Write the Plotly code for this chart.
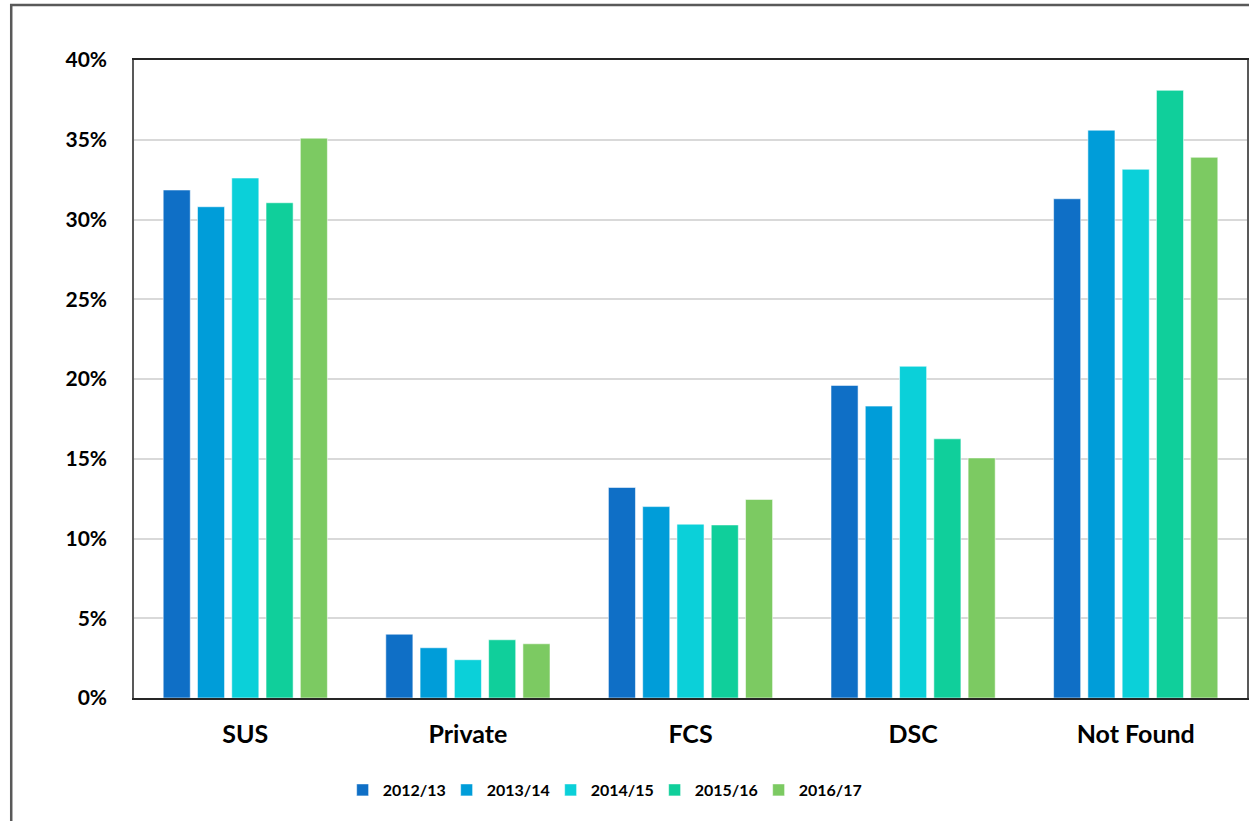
import plotly.graph_objects as go

categories = ["SUS", "Private", "FCS", "DSC", "Not Found"]
series_names = ["2012/13", "2013/14", "2014/15", "2015/16", "2016/17"]
v_2012_13 = [31.85, 4.0, 13.2, 19.6, 31.3]
v_2013_14 = [30.8, 3.15, 12.0, 18.3, 35.6]
v_2014_15 = [32.6, 2.4, 10.9, 20.8, 33.15]
v_2015_16 = [31.05, 3.65, 10.85, 16.25, 38.1]
v_2016_17 = [35.1, 3.4, 12.45, 15.05, 33.9]
series_values = [v_2012_13, v_2013_14, v_2014_15, v_2015_16, v_2016_17]
colors = ["#0F6FC6", "#009DD9", "#0BD0D9", "#10CF9B", "#7CCA62"]
y_ticks = [0, 5, 10, 15, 20, 25, 30, 35, 40]
y_tick_labels = [f"{t}%" for t in y_ticks]

FONT = "Lato, 'Open Sans', sans-serif"

fig = go.Figure()
for name, vals, col in zip(series_names, series_values, colors):
    fig.add_trace(go.Bar(
        x=categories, y=vals, name=name,
        marker=dict(color=col, line=dict(color="rgba(255,255,255,0.55)", width=1)),
    ))

W, H = 1251, 821
L, R, T, B = 134, 2, 60, 123
pw = W - L - R
ph = H - T - B

def px_x(p):
    return (p - L) / pw

def px_y(p):
    return (H - B - p) / ph

fig.update_layout(
    width=W, height=H,
    margin=dict(l=L, r=R, t=T, b=B),
    paper_bgcolor="white", plot_bgcolor="white",
    barmode="group", bargap=0.23, bargroupgap=0.21,
    font=dict(family=FONT, color="#000000"),
    legend=dict(
        orientation="h", x=px_x(343), xanchor="left", y=px_y(790), yanchor="middle",
        font=dict(family=FONT, size=16, color="#000000", weight="bold"),
        entrywidth=59, entrywidthmode="pixels",
        itemclick=False, traceorder="normal",
    ),
    xaxis=dict(
        showline=True, linecolor="#262626", linewidth=2, mirror=True,
        tickfont=dict(family=FONT, size=25, color="#000000", weight="bold"),
        ticks="", ticklabelstandoff=13, showgrid=False,
    ),
    yaxis=dict(
        range=[0, 40], tickvals=y_ticks, ticktext=y_tick_labels,
        showline=True, linecolor="#595959", linewidth=1.5, mirror=True,
        showgrid=True, gridcolor="#d9d9d9", gridwidth=1.5,
        tickfont=dict(family=FONT, size=21, color="#000000", weight="bold"),
        ticks="", ticklabelstandoff=21, zeroline=False,
    ),
    shapes=[
        dict(type="path", xref="paper", yref="paper",
             path=f"M {px_x(11)} {px_y(821)} L {px_x(11)} {px_y(5)} L {px_x(1251)} {px_y(5)}",
             line=dict(color="#595959", width=2.5)),
    ],
)

fig.write_html(
    "out.html",
    config={"displayModeBar": False},
    post_script="document.body.style.margin='0';document.body.style.overflow='hidden';",
)
